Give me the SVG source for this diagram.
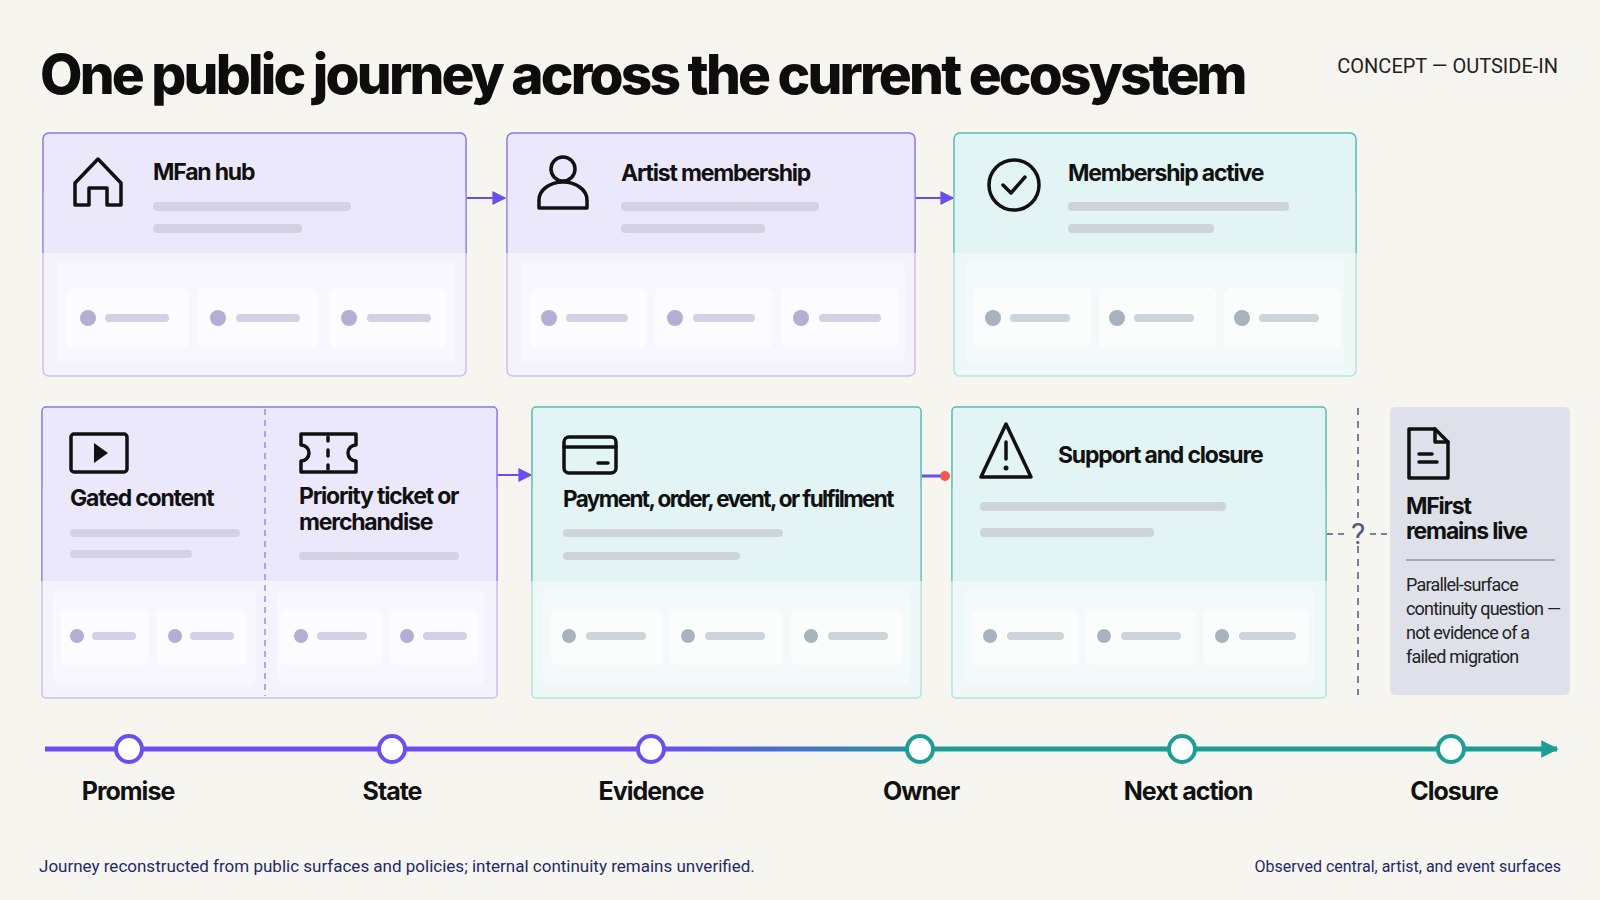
<svg xmlns="http://www.w3.org/2000/svg" width="1600" height="900" viewBox="0 0 1600 900">
<defs>
<linearGradient id="tl" x1="45" y1="0" x2="1559" y2="0" gradientUnits="userSpaceOnUse">
<stop offset="0" stop-color="#6a4ef2"/><stop offset="0.4" stop-color="#6a4ef2"/><stop offset="0.6" stop-color="#1e9d95"/><stop offset="1" stop-color="#1e9d95"/></linearGradient>
<marker id="ap" viewBox="0 0 10 10" refX="9" refY="5" markerWidth="7" markerHeight="7" orient="auto"><path d="M0,0L10,5L0,10z" fill="#6a4ef2"/></marker>
<marker id="at" viewBox="0 0 10 10" refX="9" refY="5" markerWidth="3.5" markerHeight="3.5" orient="auto"><path d="M0,0L10,5L0,10z" fill="#1e9d95"/></marker>
</defs>
<style>
.t{font-family:Inter,"Noto Sans",sans-serif;font-weight:700;fill:#111;letter-spacing:-1.2px}
.h{font-size:23px}
.b{font-family:Roboto,"Liberation Sans",sans-serif;fill:#222}
.ic{fill:none;stroke:#111;stroke-width:3.5;stroke-linejoin:round;stroke-linecap:round}
.pt{fill:#ece8fb;stroke:#8b7cf0;stroke-width:1.5}
.pb{fill:#f4f2fd}
.tt{fill:#e2f4f3;stroke:#5fbdb8;stroke-width:1.5}
.tb{fill:#eef8f7}
.pan{fill:#ffffff;opacity:.35}
.chip{fill:#ffffff;opacity:.6}
.dp{fill:#b2afd2}.dt{fill:#a9b3bd}
.bp{fill:#d3d1e4}.bt{fill:#cdd5da}
.lbl{font-family:Inter,"Noto Sans",sans-serif;font-weight:700;font-size:25px;fill:#111;letter-spacing:-1px;text-anchor:middle}
</style>
<rect width="1600" height="900" fill="#f7f5ef"/>
<text x="40" y="94" font-family="Inter,'Noto Sans',sans-serif" font-weight="800" font-size="55" letter-spacing="-2.8" fill="#0d0d0d">One public journey across the current ecosystem</text>
<text x="1558" y="73" text-anchor="end" font-family="Roboto,'Liberation Sans',sans-serif" font-size="20" fill="#222">CONCEPT — OUTSIDE-IN</text>

<g id="connectors" fill="none">
<line x1="467" y1="198" x2="505" y2="198" stroke="#6a4ef2" stroke-width="2" marker-end="url(#ap)"/>
<line x1="915" y1="198" x2="953" y2="198" stroke="#6a4ef2" stroke-width="2" marker-end="url(#ap)"/>
<line x1="497" y1="475" x2="531" y2="475" stroke="#6a4ef2" stroke-width="2" marker-end="url(#ap)"/>
<line x1="921" y1="476" x2="944" y2="476" stroke="#6a4ef2" stroke-width="3"/>
<circle cx="945" cy="476" r="5" fill="#ee5a4f"/>
<line x1="1358" y1="408" x2="1358" y2="518" stroke="#4f5b80" stroke-width="1.5" stroke-dasharray="7 6"/>
<line x1="1358" y1="546" x2="1358" y2="695" stroke="#4f5b80" stroke-width="1.5" stroke-dasharray="7 6"/>
<line x1="1327" y1="534" x2="1347" y2="534" stroke="#4f5b80" stroke-width="1.5" stroke-dasharray="6 5"/>
<line x1="1370" y1="534" x2="1390" y2="534" stroke="#4f5b80" stroke-width="1.5" stroke-dasharray="6 5"/>
<text x="1358" y="544" text-anchor="middle" font-family="Roboto,sans-serif" font-size="30" fill="#4f5b80">?</text>
<line x1="45" y1="749" x2="1557" y2="749" stroke="url(#tl)" stroke-width="5" marker-end="url(#at)"/>
</g>

<g id="card-mfan" transform="translate(43,133)">
<rect class="pb" width="423" height="243" rx="6" stroke="#c9c0f4" stroke-width="1.5"/>
<path class="pt" d="M0,120V6a6,6 0 0 1 6,-6H417a6,6 0 0 1 6,6V120"/><rect x="0.75" y="60" width="421.5" height="60" fill="#ece8fb"/>
<rect class="pan" x="14" y="129" width="398" height="100" rx="6"/>
<rect class="chip" x="23" y="155" width="123" height="60" rx="6"/><circle class="dp" cx="45" cy="185" r="8"/><rect class="bp" x="62" y="181" width="64" height="8" rx="4"/>
<rect class="chip" x="155" y="155" width="120" height="60" rx="6"/><circle class="dp" cx="175" cy="185" r="8"/><rect class="bp" x="193" y="181" width="64" height="8" rx="4"/>
<rect class="chip" x="286" y="155" width="118" height="60" rx="6"/><circle class="dp" cx="306" cy="185" r="8"/><rect class="bp" x="324" y="181" width="64" height="8" rx="4"/>
<path class="ic" d="M32,72V50L55,26L78,50V72H64V55H46V72Z"/>
<text class="t h" x="110" y="47">MFan hub</text>
<rect class="bp" x="110" y="69" width="198" height="9" rx="4"/><rect class="bp" x="110" y="91" width="149" height="9" rx="4"/>
</g>

<g id="card-artist" transform="translate(507,133)">
<rect class="pb" width="408" height="243" rx="6" stroke="#c9c0f4" stroke-width="1.5"/>
<path class="pt" d="M0,120V6a6,6 0 0 1 6,-6H402a6,6 0 0 1 6,6V120"/><rect x="0.75" y="60" width="406.5" height="60" fill="#ece8fb"/>
<rect class="pan" x="14" y="129" width="384" height="100" rx="6"/>
<rect class="chip" x="23" y="155" width="117" height="60" rx="6"/><circle class="dp" cx="42" cy="185" r="8"/><rect class="bp" x="59" y="181" width="62" height="8" rx="4"/>
<rect class="chip" x="148" y="155" width="117" height="60" rx="6"/><circle class="dp" cx="168" cy="185" r="8"/><rect class="bp" x="186" y="181" width="62" height="8" rx="4"/>
<rect class="chip" x="274" y="155" width="117" height="60" rx="6"/><circle class="dp" cx="294" cy="185" r="8"/><rect class="bp" x="312" y="181" width="62" height="8" rx="4"/>
<circle class="ic" cx="56" cy="36" r="12"/><path class="ic" d="M32,75V67a24,18 0 0 1 48,0V75Z"/>
<text class="t h" x="114" y="48">Artist membership</text>
<rect class="bp" x="114" y="69" width="198" height="9" rx="4"/><rect class="bp" x="114" y="91" width="144" height="9" rx="4"/>
</g>

<g id="card-active" transform="translate(954,133)">
<rect class="tb" width="402" height="243" rx="6" stroke="#b5e2df" stroke-width="1.5"/>
<path class="tt" d="M0,120V6a6,6 0 0 1 6,-6H396a6,6 0 0 1 6,6V120"/><rect x="0.75" y="60" width="400.5" height="60" fill="#e2f4f3"/>
<rect class="pan" x="12" y="129" width="378" height="100" rx="6"/>
<rect class="chip" x="20" y="155" width="117" height="60" rx="6"/><circle class="dt" cx="39" cy="185" r="8"/><rect class="bt" x="56" y="181" width="60" height="8" rx="4"/>
<rect class="chip" x="145" y="155" width="117" height="60" rx="6"/><circle class="dt" cx="163" cy="185" r="8"/><rect class="bt" x="180" y="181" width="60" height="8" rx="4"/>
<rect class="chip" x="270" y="155" width="117" height="60" rx="6"/><circle class="dt" cx="288" cy="185" r="8"/><rect class="bt" x="305" y="181" width="60" height="8" rx="4"/>
<circle class="ic" cx="60" cy="52" r="25"/><path class="ic" d="M49,52L57,60L71,44"/>
<text class="t h" x="114" y="48">Membership active</text>
<rect class="bt" x="114" y="69" width="221" height="9" rx="4"/><rect class="bt" x="114" y="91" width="146" height="9" rx="4"/>
</g>

<g id="card-gated" transform="translate(42,407)">
<rect class="pb" width="455" height="291" rx="4" stroke="#c9c0f4" stroke-width="1.5"/>
<path class="pt" d="M0,174V4a4,4 0 0 1 4,-4H451a4,4 0 0 1 4,4V174"/><rect x="0.75" y="80" width="453.5" height="94" fill="#ece8fb"/>
<line x1="223" y1="2" x2="223" y2="289" stroke="#8b7cf0" stroke-width="1.3" stroke-dasharray="6 5"/>
<rect class="pan" x="11" y="183" width="203" height="94" rx="6"/><rect class="pan" x="235" y="183" width="207" height="94" rx="6"/>
<rect class="chip" x="19" y="202" width="88" height="56" rx="6"/><circle class="dp" cx="35" cy="229" r="7"/><rect class="bp" x="50" y="225" width="44" height="8" rx="4"/>
<rect class="chip" x="115" y="202" width="90" height="56" rx="6"/><circle class="dp" cx="133" cy="229" r="7"/><rect class="bp" x="148" y="225" width="44" height="8" rx="4"/>
<rect class="chip" x="238" y="202" width="102" height="56" rx="6"/><circle class="dp" cx="259" cy="229" r="7"/><rect class="bp" x="275" y="225" width="50" height="8" rx="4"/>
<rect class="chip" x="348" y="202" width="88" height="56" rx="6"/><circle class="dp" cx="365" cy="229" r="7"/><rect class="bp" x="381" y="225" width="44" height="8" rx="4"/>
<rect class="ic" x="29" y="27" width="56" height="38" rx="3"/><path d="M52,36L66,46L52,56Z" fill="#111"/>
<path class="ic" d="M259,27H314V38a8,8 0 0 0 0,16V65H259V54a8,8 0 0 0 0,-16Z"/><path class="ic" d="M286,30V34M286,43V49M286,58V62"/>
<text class="t h" x="28" y="99">Gated content</text>
<text class="t h" x="257" y="97">Priority ticket or</text><text class="t h" x="257" y="123">merchandise</text>
<rect class="bp" x="28" y="122" width="170" height="8" rx="4"/><rect class="bp" x="28" y="143" width="122" height="8" rx="4"/>
<rect class="bp" x="257" y="145" width="160" height="8" rx="4"/>
</g>

<g id="card-payment" transform="translate(532,407)">
<rect class="tb" width="389" height="291" rx="4" stroke="#b5e2df" stroke-width="1.5"/>
<path class="tt" d="M0,174V4a4,4 0 0 1 4,-4H385a4,4 0 0 1 4,4V174"/><rect x="0.75" y="80" width="387.5" height="94" fill="#e2f4f3"/>
<rect class="pan" x="11" y="183" width="367" height="94" rx="6"/>
<rect class="chip" x="19" y="202" width="112" height="56" rx="6"/><circle class="dt" cx="37" cy="229" r="7"/><rect class="bt" x="54" y="225" width="60" height="8" rx="4"/>
<rect class="chip" x="138" y="202" width="113" height="56" rx="6"/><circle class="dt" cx="156" cy="229" r="7"/><rect class="bt" x="173" y="225" width="60" height="8" rx="4"/>
<rect class="chip" x="259" y="202" width="112" height="56" rx="6"/><circle class="dt" cx="279" cy="229" r="7"/><rect class="bt" x="296" y="225" width="60" height="8" rx="4"/>
<rect class="ic" x="32" y="30" width="52" height="36" rx="5"/><path class="ic" d="M32,40H84M66,56H76"/>
<text class="t h" x="31" y="100" style="letter-spacing:-1.6px;font-size:22.5px">Payment, order, event, or fulfilment</text>
<rect class="bt" x="31" y="122" width="220" height="8" rx="4"/><rect class="bt" x="31" y="145" width="177" height="8" rx="4"/>
</g>

<g id="card-support" transform="translate(952,407)">
<rect class="tb" width="374" height="291" rx="4" stroke="#b5e2df" stroke-width="1.5"/>
<path class="tt" d="M0,174V4a4,4 0 0 1 4,-4H370a4,4 0 0 1 4,4V174"/><rect x="0.75" y="80" width="372.5" height="94" fill="#e2f4f3"/>
<rect class="pan" x="12" y="183" width="350" height="94" rx="6"/>
<rect class="chip" x="20" y="202" width="106" height="56" rx="6"/><circle class="dt" cx="38" cy="229" r="7"/><rect class="bt" x="55" y="225" width="57" height="8" rx="4"/>
<rect class="chip" x="134" y="202" width="110" height="56" rx="6"/><circle class="dt" cx="152" cy="229" r="7"/><rect class="bt" x="169" y="225" width="60" height="8" rx="4"/>
<rect class="chip" x="251" y="202" width="106" height="56" rx="6"/><circle class="dt" cx="270" cy="229" r="7"/><rect class="bt" x="287" y="225" width="57" height="8" rx="4"/>
<path class="ic" d="M54,17L29,70H79Z"/><path class="ic" d="M54,35V52"/><circle cx="54" cy="61" r="2.5" fill="#111"/>
<text class="t h" x="106" y="56">Support and closure</text>
<rect class="bt" x="28" y="95" width="246" height="9" rx="4"/><rect class="bt" x="28" y="121" width="174" height="9" rx="4"/>
</g>

<g id="card-mfirst" transform="translate(1390,407)">
<rect width="180" height="288" rx="5" fill="#dfe1ea"/>
<path class="ic" d="M19,22V71H58V35L45,22Z"/><path class="ic" d="M45,22V35H58M29,47H42M29,55H47"/>
<text class="t h" x="16" y="107">MFirst</text><text class="t h" x="16" y="132">remains live</text>
<line x1="16" y1="153" x2="165" y2="153" stroke="#8d95b5" stroke-width="1.5"/>
<g class="b" font-size="18" letter-spacing="-0.8"><text x="16" y="184">Parallel-surface</text><text x="16" y="208">continuity question —</text><text x="16" y="232">not evidence of a</text><text x="16" y="256">failed migration</text></g>
</g>

<g id="timeline">
<g fill="#fff" stroke-width="4">
<circle cx="129" cy="749" r="13" stroke="#6a4ef2"/><circle cx="392" cy="749" r="13" stroke="#6a4ef2"/><circle cx="651" cy="749" r="13" stroke="#6a4ef2"/>
<circle cx="920" cy="749" r="13" stroke="#1e9d95"/><circle cx="1182" cy="749" r="13" stroke="#1e9d95"/><circle cx="1451" cy="749" r="13" stroke="#1e9d95"/>
</g>
<text class="lbl" x="128" y="800">Promise</text><text class="lbl" x="392" y="800">State</text><text class="lbl" x="651" y="800">Evidence</text>
<text class="lbl" x="921" y="800">Owner</text><text class="lbl" x="1188" y="800">Next action</text><text class="lbl" x="1454" y="800">Closure</text>
</g>

<text class="b" x="39" y="872" font-size="17" style="fill:#1f2a6b">Journey reconstructed from public surfaces and policies; internal continuity remains unverified.</text>
<text class="b" x="1561" y="872" font-size="16" text-anchor="end" style="fill:#1f2a6b">Observed central, artist, and event surfaces</text>
</svg>
